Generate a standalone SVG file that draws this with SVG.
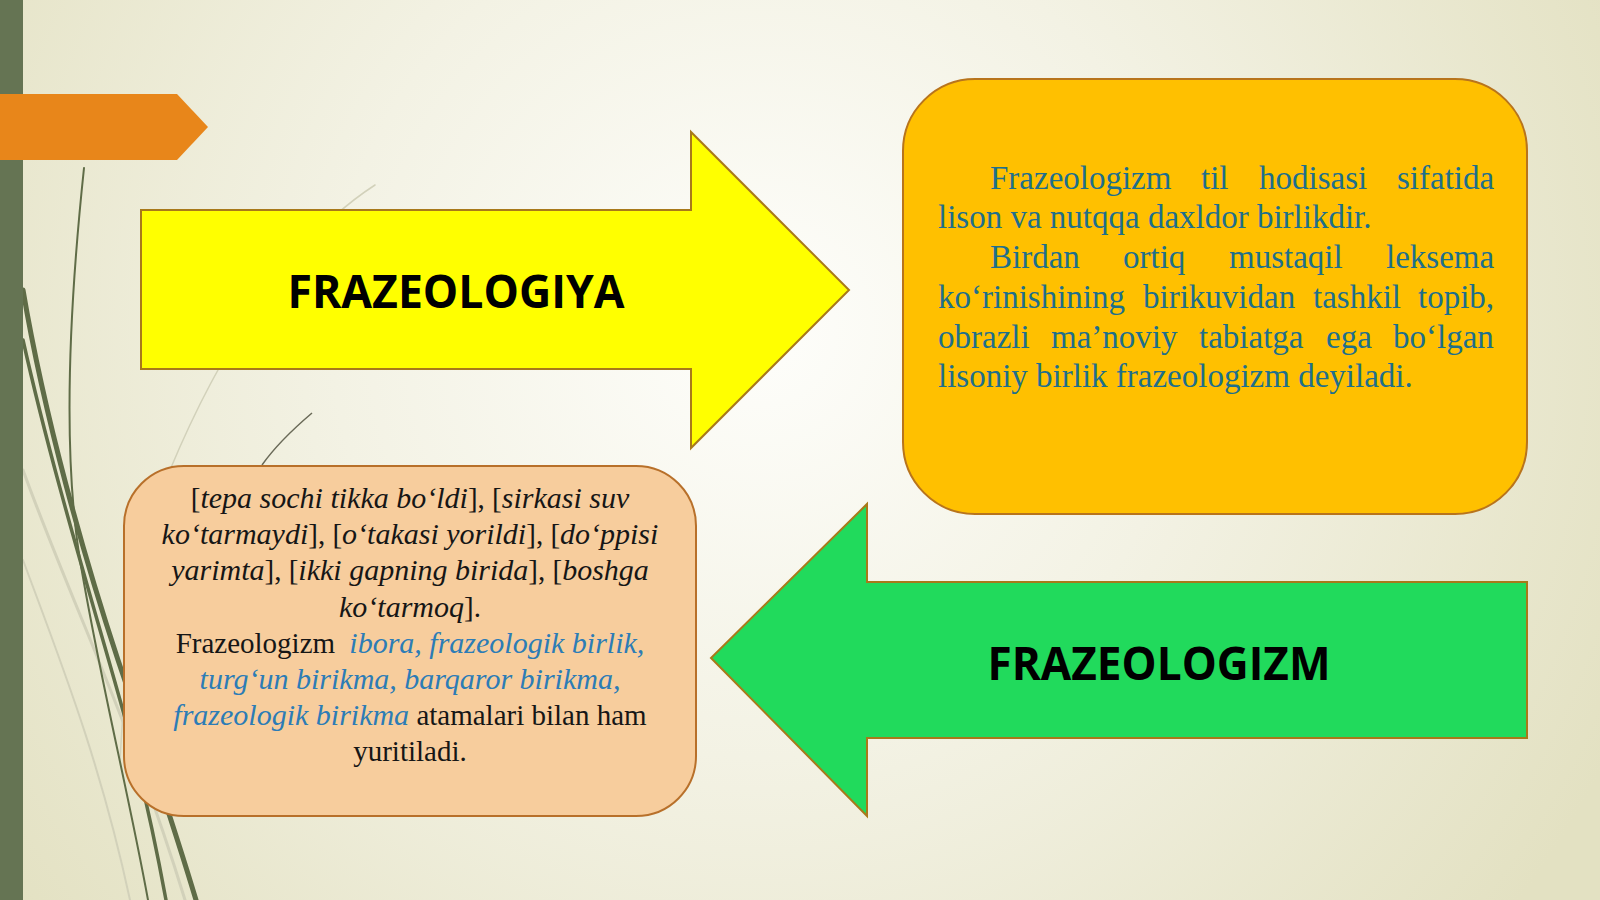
<svg xmlns="http://www.w3.org/2000/svg" width="1600" height="900" viewBox="0 0 1600 900">
<defs>
<radialGradient id="bg" cx="760" cy="330" r="950" gradientUnits="userSpaceOnUse">
<stop offset="0" stop-color="#fefefb"/>
<stop offset="0.45" stop-color="#f3f2e4"/>
<stop offset="1" stop-color="#e3e1c2"/>
</radialGradient>
<style>
.arrow{stroke:#a8791a;stroke-width:2;stroke-linejoin:miter}
.title{font-family:"Open Sans","DejaVu Sans",sans-serif;font-weight:bold;font-size:46px;fill:#000}
.def{font-family:"Liberation Serif","Times New Roman",serif;font-size:33px;fill:#1e6f8c}
.ex{font-family:"Liberation Serif","Times New Roman",serif;font-size:29px;fill:#161616}
.it{font-style:italic;font-size:30px}
.bl{fill:#2c7cb6;font-style:italic;font-size:30px}
.grass{fill:none;stroke:#5f6c47;stroke-linecap:round}
.faint{fill:none;stroke:#d2d1ba;stroke-linecap:round}
</style>
</defs>
<rect x="0" y="0" width="1600" height="900" fill="url(#bg)"/>
<g id="decor">
<path class="faint" d="M375,185 C290,240 220,350 170,470 C140,560 125,660 120,760" stroke-width="1.5"/>
<path class="faint" d="M23,470 C70,600 130,720 185,900" stroke-width="3"/>
<path class="faint" d="M23,560 C60,660 100,760 130,900" stroke-width="2"/>
<path class="grass" d="M84,168 C70,300 62,450 80,560 C100,680 128,790 148,900" stroke-width="2"/>
<path class="grass" d="M23,290 C45,420 85,560 118,660 C145,740 172,820 196,900" stroke-width="5"/>
<path class="grass" d="M23,340 C52,470 92,600 120,700 C140,770 155,840 166,900" stroke-width="3.5"/>
<path d="M312,413 C292,430 274,448 262,465" fill="none" stroke="#6a6a58" stroke-width="1.5"/>
<rect x="0" y="0" width="23" height="900" fill="#657453"/>
<polygon points="0,94 177,94 208,127 177,160 0,160" fill="#e8861a"/>
</g>
<g id="connectors">
</g>
<g id="node-frazeologiya">
<polygon class="arrow" points="141,210 691,210 691,132 849,290 691,448 691,369 141,369" fill="#ffff00"/>
<text class="title" x="456" y="308" text-anchor="middle" textLength="337" lengthAdjust="spacingAndGlyphs">FRAZEOLOGIYA</text>
</g>
<g id="node-frazeologizm">
<polygon class="arrow" points="1527,582 867,582 867,504 711,658 867,816 867,738 1527,738" fill="#21da5c"/>
<text class="title" x="1159" y="680" text-anchor="middle" textLength="343" lengthAdjust="spacingAndGlyphs">FRAZEOLOGIZM</text>
</g>
<g id="node-definition">
<rect x="903" y="79" width="624" height="435" rx="72" ry="72" fill="#ffc000" stroke="#b8741c" stroke-width="2"/>
<text class="def" y="189"><tspan x="990">Frazeologizm</tspan><tspan x="1201">til</tspan><tspan x="1259">hodisasi</tspan><tspan x="1397">sifatida</tspan></text>
<text class="def" x="938" y="228">lison va nutqqa daxldor birlikdir.</text>
<text class="def" y="268"><tspan x="990">Birdan</tspan><tspan x="1123">ortiq</tspan><tspan x="1229">mustaqil</tspan><tspan x="1386">leksema</tspan></text>
<text class="def" y="308"><tspan x="938">ko‘rinishining</tspan><tspan x="1143">birikuvidan</tspan><tspan x="1313">tashkil</tspan><tspan x="1418">topib,</tspan></text>
<text class="def" y="348"><tspan x="938">obrazli</tspan><tspan x="1051">ma’noviy</tspan><tspan x="1199">tabiatga</tspan><tspan x="1326">ega</tspan><tspan x="1393">bo‘lgan</tspan></text>
<text class="def" x="938" y="387">lisoniy birlik frazeologizm deyiladi.</text>
</g>
<g id="node-examples">
<rect x="124" y="466" width="572" height="350" rx="60" ry="60" fill="#f7cd9d" stroke="#b8702a" stroke-width="2"/>
<text class="ex" x="410" y="508" text-anchor="middle">[<tspan class="it">tepa sochi tikka bo‘ldi</tspan>], [<tspan class="it">sirkasi suv</tspan></text>
<text class="ex" x="410" y="544" text-anchor="middle"><tspan class="it">ko‘tarmaydi</tspan>], [<tspan class="it">o‘takasi yorildi</tspan>], [<tspan class="it">do‘ppisi</tspan></text>
<text class="ex" x="410" y="580" text-anchor="middle"><tspan class="it">yarimta</tspan>], [<tspan class="it">ikki gapning birida</tspan>], [<tspan class="it">boshga</tspan></text>
<text class="ex" x="410" y="617" text-anchor="middle"><tspan class="it">ko‘tarmoq</tspan>].</text>
<text class="ex" x="410" y="653" text-anchor="middle">Frazeologizm <tspan class="bl" dx="7">ibora, frazeologik birlik,</tspan></text>
<text class="ex" x="410" y="689" text-anchor="middle"><tspan class="bl">turg‘un birikma, barqaror birikma,</tspan></text>
<text class="ex" x="410" y="725" text-anchor="middle"><tspan class="bl">frazeologik birikma</tspan> atamalari bilan ham</text>
<text class="ex" x="410" y="761" text-anchor="middle">yuritiladi.</text>
</g>
</svg>
